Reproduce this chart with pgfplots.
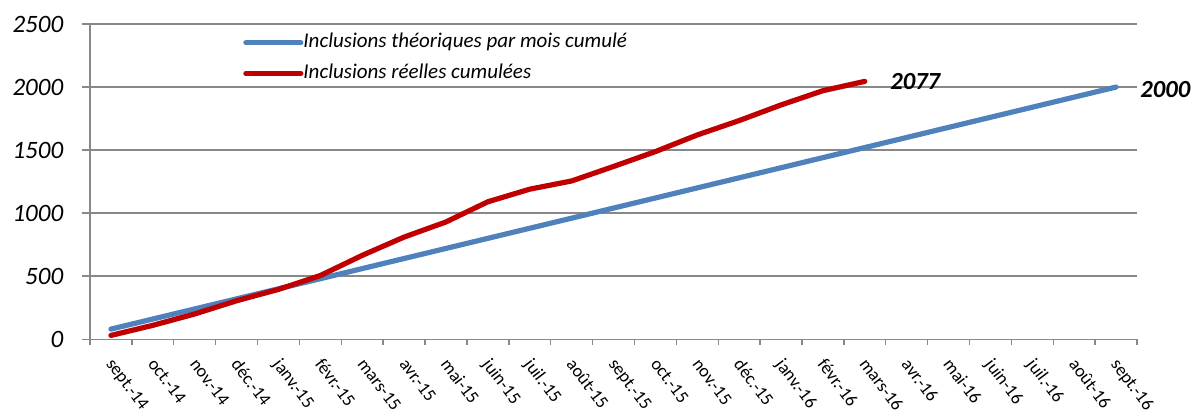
\documentclass[border=0pt]{standalone}
\usepackage{fontspec}
\setmainfont{Carlito}
\usepackage{pgfplots}
\pgfplotsset{compat=1.18}
\definecolor{bleu}{HTML}{4F81BD}
\definecolor{rouge}{HTML}{C00000}
\definecolor{grille}{HTML}{888888}
\begin{document}
\begin{tikzpicture}
\begin{axis}[
  scale only axis,
  width=523.5pt, height=157.6pt,
  xmin=-0.5, xmax=24.5,
  ymin=0, ymax=2500,
  clip=false,
  axis x line*=bottom, axis y line*=left,
  axis line style={grille, line width=0.7pt},
  every inner x axis line/.append style={-},
  every inner y axis line/.append style={-},
  ymajorgrids,
  grid style={grille, line width=0.7pt},
  ytick={0,500,1000,1500,2000,2500},
  xtick={0,...,24},
  xticklabels={sept.-14,oct.-14,nov.-14,déc.-14,janv.-15,févr.-15,mars-15,avr.-15,mai-15,juin-15,juil.-15,août-15,sept.-15,oct.-15,nov.-15,déc.-15,janv.-16,févr.-16,mars-16,avr.-16,mai-16,juin-16,juil.-16,août-16,sept.-16},
  minor xtick={-0.5,0.5,...,24.5},
  tick align=outside,
  major tick length=4.2pt,
  minor tick length=2.8pt,
  major x tick style={draw=none},
  tick style={grille, line width=0.7pt},
  /pgf/number format/assume math mode=true,
  /pgf/number format/1000 sep={},
  scaled y ticks=false,
  yticklabel style={font=\fontsize{12.5}{14}\selectfont\itshape, anchor=east, inner sep=0pt, xshift=-9pt},
  xticklabel style={font=\fontsize{9}{11}\selectfont, xshift=2pt, yshift=-4.5pt, rotate=-53, anchor=north west, inner sep=0pt},
  legend style={draw=none, fill=none, at={(rel axis cs:0.146,0.97)}, anchor=north west,
    inner sep=0pt, row sep=6.3pt, column sep=0pt,
    nodes={inner sep=0pt, text height=7pt, text depth=2pt, font=\fontsize{10.5}{12}\selectfont\itshape}},
  legend cell align=left,
  legend image code/.code={\draw[#1] (0pt,0pt) -- (27.5pt,0pt);},
]
\addplot[bleu, line width=2.6pt, line cap=round, line join=round] coordinates {
(0,80) (1,160) (2,240) (3,320) (4,400) (5,480) (6,560) (7,640) (8,720) (9,800)
(10,880) (11,960) (12,1040) (13,1120) (14,1200) (15,1280) (16,1360) (17,1440)
(18,1520) (19,1600) (20,1680) (21,1760) (22,1840) (23,1920) (24,2000)};
\addlegendentry{Inclusions théoriques par mois cumulé}
\addplot[rouge, line width=2.6pt, line cap=round, line join=round] coordinates {
(0,30) (1,110) (2,200) (3,305) (4,395) (5,505) (6,665) (7,810) (8,930) (9,1090)
(10,1190) (11,1255) (12,1370) (13,1488) (14,1620) (15,1734) (16,1858) (17,1971) (18,2045)};
\addlegendentry{Inclusions réelles cumulées}
\node[anchor=west, inner sep=0pt, font=\fontsize{12.3}{14}\selectfont\bfseries\itshape] at (axis cs:18.60,2042) {2077};
\node[anchor=west, inner sep=0pt, font=\fontsize{12.3}{14}\selectfont\bfseries\itshape] at (axis cs:24.57,1982) {2000};
\coordinate (ll) at (rel axis cs:0,0);
\coordinate (ur) at (rel axis cs:1,1);
\end{axis}
\pgfresetboundingbox
\path[use as bounding box] ([xshift=-45pt, yshift=-36.9pt]ll) rectangle ([xshift=29pt, yshift=12pt]ur);
\end{tikzpicture}
\end{document}
